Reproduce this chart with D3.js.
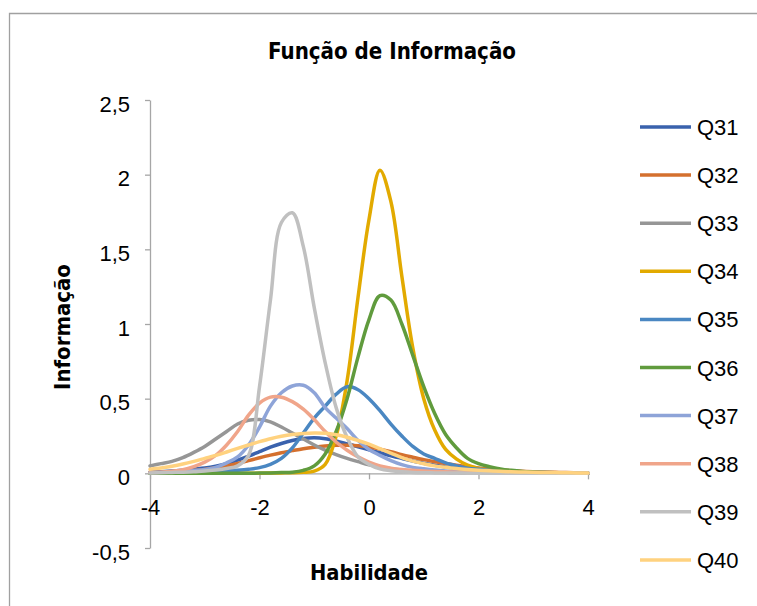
<!DOCTYPE html>
<html><head><meta charset="utf-8">
<script src="https://cdn.jsdelivr.net/npm/d3@7"></script>
<style>body{margin:0;background:#fff}svg{display:block}</style>
</head><body><svg id="c" width="757" height="606"></svg>
<script>
const abilities = d3.range(41).map(i => +(-4 + i * 0.2).toFixed(1));
const seriesNames = ["Q31","Q32","Q33","Q34","Q35","Q36","Q37","Q38","Q39","Q40"];
const seriesColors = ["#3A62AD","#D4702E","#969696","#E2AA00","#4A87C2","#609B3D","#8EA4D8","#F0A58A","#C0C0C0","#FFD27F"];
const Q31 = [0.008,0.011,0.015,0.02,0.028,0.036,0.048,0.065,0.088,0.115,0.145,0.175,0.2,0.22,0.233,0.238,0.232,0.217,0.198,0.178,0.158,0.138,0.118,0.1,0.083,0.068,0.054,0.043,0.034,0.026,0.02,0.015,0.012,0.009,0.007,0.005,0.004,0.003,0.002,0.002,0.001];
const Q32 = [0.005,0.007,0.01,0.014,0.019,0.026,0.037,0.05,0.066,0.085,0.104,0.122,0.138,0.152,0.165,0.175,0.183,0.188,0.188,0.184,0.176,0.162,0.145,0.125,0.108,0.092,0.078,0.066,0.055,0.045,0.036,0.029,0.023,0.018,0.014,0.011,0.009,0.007,0.005,0.004,0.003];
const Q33 = [0.05,0.065,0.08,0.105,0.14,0.18,0.23,0.28,0.33,0.355,0.36,0.345,0.31,0.27,0.23,0.19,0.155,0.125,0.1,0.078,0.057,0.042,0.031,0.022,0.016,0.012,0.009,0.007,0.005,0.004,0.003,0.002,0.002,0.001,0.001,0.001,0.001,0.001,0.001,0.001,0.001];
const Q34 = [0,0,0,0,0,0,0,0,0,0,0.001,0.002,0.003,0.004,0.007,0.015,0.06,0.25,0.62,1.18,1.7,2.03,1.82,1.32,0.84,0.5,0.29,0.16,0.095,0.055,0.033,0.02,0.012,0.008,0.005,0.003,0.002,0.001,0.001,0.001,0];
const Q35 = [0.001,0.002,0.003,0.004,0.006,0.008,0.011,0.015,0.02,0.027,0.038,0.06,0.1,0.17,0.27,0.37,0.45,0.53,0.58,0.56,0.5,0.42,0.33,0.25,0.18,0.13,0.1,0.07,0.05,0.035,0.027,0.02,0.015,0.011,0.008,0.006,0.005,0.004,0.003,0.002,0.002];
const Q36 = [0,0,0,0,0,0,0,0,0,0,0.002,0.003,0.005,0.008,0.02,0.05,0.13,0.28,0.5,0.78,1.03,1.19,1.16,1.0,0.79,0.58,0.4,0.26,0.17,0.1,0.065,0.045,0.03,0.02,0.013,0.009,0.006,0.004,0.003,0.002,0.001];
const Q37 = [0.005,0.007,0.01,0.014,0.019,0.026,0.04,0.07,0.11,0.19,0.31,0.45,0.54,0.585,0.59,0.54,0.44,0.37,0.3,0.22,0.16,0.12,0.085,0.058,0.04,0.03,0.022,0.016,0.012,0.009,0.007,0.005,0.004,0.003,0.002,0.002,0.002,0.001,0.001,0.001,0.001];
const Q38 = [0.005,0.008,0.014,0.024,0.045,0.075,0.12,0.19,0.28,0.39,0.47,0.51,0.51,0.48,0.43,0.36,0.28,0.21,0.155,0.11,0.075,0.05,0.035,0.026,0.02,0.016,0.012,0.01,0.008,0.006,0.005,0.004,0.003,0.003,0.002,0.002,0.002,0.001,0.001,0.001,0.001];
const Q39 = [0.003,0.004,0.006,0.008,0.011,0.016,0.022,0.032,0.05,0.12,0.58,1.16,1.68,1.745,1.52,1.11,0.74,0.44,0.24,0.11,0.06,0.03,0.017,0.01,0.006,0.004,0.003,0.002,0.002,0.001,0.001,0.001,0,0,0,0,0,0,0,0,0];
const Q40 = [0.027,0.035,0.047,0.062,0.08,0.1,0.12,0.143,0.167,0.19,0.212,0.232,0.248,0.26,0.267,0.27,0.268,0.258,0.242,0.22,0.195,0.165,0.135,0.105,0.082,0.064,0.05,0.04,0.032,0.026,0.021,0.017,0.014,0.011,0.009,0.007,0.006,0.005,0.004,0.003,0.003];
const seriesValues = [Q31,Q32,Q33,Q34,Q35,Q36,Q37,Q38,Q39,Q40];
const yTicks = [-0.5,0,0.5,1,1.5,2,2.5];
const xTicks = [-4,-2,0,2,4];
const chartTitle = "Função de Informação";
const xTitle = "Habilidade";
const yTitle = "Informação";

const svg = d3.select("#c");
const x = d3.scaleLinear().domain([-4,4]).range([150,588]);
const y = d3.scaleLinear().domain([-0.5,2.5]).range([548,100]);
const axisColor = "#A6A6A6";
const fmt = v => String(v).replace(".", ",");

// outer border
svg.append("path").attr("d","M9.5,606 V13.5 H757").attr("fill","none").attr("stroke","#A0A0A0").attr("stroke-width",1.3);

// y axis
const ya = svg.append("g").attr("transform",`translate(${x(-4)},0)`)
  .call(d3.axisLeft(y).tickValues(yTicks).tickSize(5).tickSizeOuter(0).tickFormat(fmt));
ya.select(".domain").attr("stroke",axisColor).attr("stroke-width",1.3);
ya.selectAll(".tick line").attr("stroke",axisColor).attr("stroke-width",1.3);
ya.selectAll(".tick text").attr("font-family","'Liberation Sans', Arial, sans-serif").attr("font-size",22)
  .attr("fill","#000").attr("x",-20).attr("dy",null).attr("y",11);

// x axis at y=0
const xa = svg.append("g").attr("transform",`translate(0,${y(0)})`)
  .call(d3.axisBottom(x).tickValues(xTicks).tickSize(6).tickSizeOuter(0).tickFormat(d => String(d)));
xa.select(".domain").attr("stroke",axisColor).attr("stroke-width",1.3);
xa.selectAll(".tick line").attr("stroke",axisColor).attr("stroke-width",1.3);
xa.selectAll(".tick text").attr("font-family","'Liberation Sans', Arial, sans-serif").attr("font-size",22)
  .attr("fill","#000").attr("dy",null).attr("y",42);

// series
const line = d3.line().x((d,i)=>x(abilities[i])).y(d=>y(d)).curve(d3.curveCatmullRom.alpha(0.5));
seriesValues.forEach((vals,k)=>{
  svg.append("path").datum(vals).attr("d",line).attr("fill","none")
    .attr("stroke",seriesColors[k]).attr("stroke-width",3.5).attr("stroke-linejoin","round").attr("stroke-linecap","round");
});

// legend
const lg = svg.append("g");
seriesNames.forEach((n,k)=>{
  const ly = 127 + k*48.1;
  lg.append("line").attr("x1",640).attr("x2",691).attr("y1",ly).attr("y2",ly)
    .attr("stroke",seriesColors[k]).attr("stroke-width",3.5);
  lg.append("text").attr("x",697).attr("y",ly+8).text(n)
    .attr("font-family","'Liberation Sans', Arial, sans-serif").attr("font-size",22).attr("fill","#000");
});

// titles
function fitText(sel, target){
  const w = sel.node().getComputedTextLength();
  const fs = parseFloat(sel.attr("font-size"));
  sel.attr("font-size", fs*target/w);
}
const bf = "'DejaVu Sans Condensed', 'DejaVu Sans', sans-serif";
const t = svg.append("text").attr("x",392).attr("y",59).attr("text-anchor","middle")
  .attr("font-family",bf).attr("font-weight","bold").attr("font-size",19).text(chartTitle);
fitText(t,248);
const xt = svg.append("text").attr("x",369).attr("y",580).attr("text-anchor","middle")
  .attr("font-family",bf).attr("font-weight","bold").attr("font-size",19).text(xTitle);
fitText(xt,118);
const yt = svg.append("text").attr("transform","translate(70,327) rotate(-90)").attr("text-anchor","middle")
  .attr("font-family",bf).attr("font-weight","bold").attr("font-size",19).text(yTitle);
fitText(yt,126);
</script></body></html>
